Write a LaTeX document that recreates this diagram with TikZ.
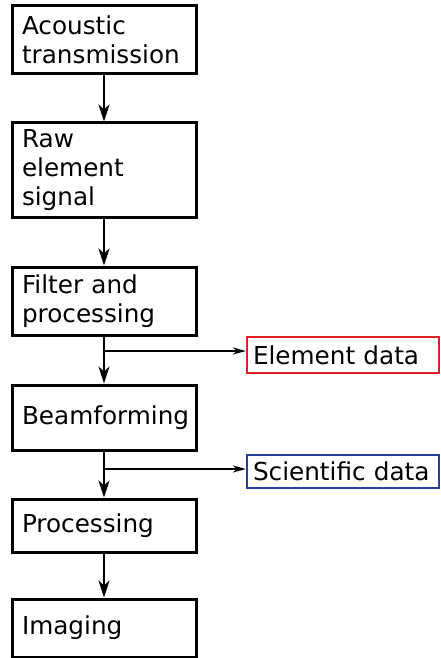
\documentclass[tikz,border=0pt]{standalone}
\usepackage{fontspec}
\setmainfont{DejaVu Sans}
\usetikzlibrary{arrows.meta}
\definecolor{edred}{RGB}{224,32,36}
\definecolor{sdblue}{RGB}{40,64,160}
\begin{document}
\begin{tikzpicture}[x=1pt,y=-1pt,
  stepbox/.style={draw=black, line width=3pt, rectangle, minimum width=184pt,
    text width=164pt, inner xsep=10pt, inner ysep=0pt, align=left,
    font=\fontsize{24.7pt}{29pt}\selectfont},
  sidebox/.style={rectangle, line width=2.2pt, minimum width=192pt,
    text width=180pt, inner xsep=6pt, inner ysep=0pt, align=left,
    font=\fontsize{24.7pt}{29pt}\selectfont},
  flow/.style={line width=2pt, -{Stealth[length=17pt,width=11pt,inset=5pt]}},
  sideflow/.style={line width=1.6pt, -{Stealth[length=13pt,width=7pt,inset=4pt]}}]
\useasboundingbox (0,0) rectangle (440,658);
\node[stepbox, minimum height=68pt] (a) at (104,40) {Acoustic\\transmission};
\node[stepbox, minimum height=94pt] (r) at (104,170) {Raw\\element\\signal};
\node[stepbox, minimum height=68pt] (f) at (104,301) {Filter and\\processing};
\node[stepbox, minimum height=65pt] (b) at (104,417.5) {Beamforming};
\node[stepbox, minimum height=53pt] (p) at (104,525.5) {Processing};
\node[stepbox, minimum height=58pt] (i) at (104,628) {Imaging};
\node[sidebox, draw=edred, minimum height=36pt] (ed) at (343,355) {Element data};
\node[sidebox, draw=sdblue, minimum height=33pt] (sd) at (343,471.5) {Scientific data};
\coordinate (edin) at ([yshift=4pt]ed.west);
\coordinate (sdin) at ([yshift=2.5pt]sd.west);
\draw[flow] (a) -- (r);
\draw[flow] (r) -- (f);
\draw[flow] (f) -- (b);
\draw[flow] (b) -- (p);
\draw[flow] (p) -- (i);
\draw[sideflow] (f.south |- edin) -- (edin);
\draw[sideflow] (b.south |- sdin) -- (sdin);
\end{tikzpicture}
\end{document}
